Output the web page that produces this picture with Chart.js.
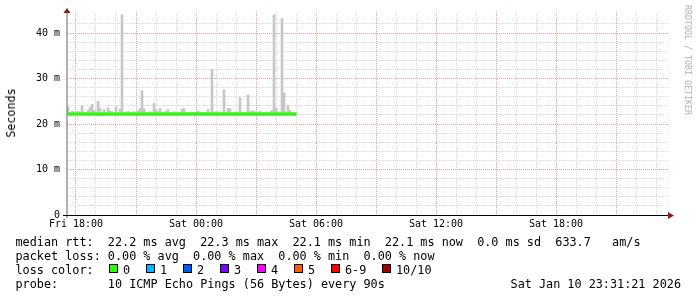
<!DOCTYPE html>
<html>
<head>
    <meta charset="utf-8">
    <title>Smokeping latency</title>
    <style>
        body {
            margin: 0;
            background: #fff;
        }
        .wrap {
            position: relative;
            width: 697px;
            height: 297px;
            overflow: hidden;
            font-family: "DejaVu Sans Mono", monospace;
            color: #000;
        }
        canvas {
            position: absolute;
            left: 0;
            top: 0;
        }
        .rot {
            position: absolute;
            white-space: nowrap;
            transform-origin: center center;
        }
        .line {
            position: absolute;
            left: 15.5px;
            font-size: 11.8px;
            line-height: 14px;
            white-space: pre;
        }
        .box {
            position: absolute;
            width: 7px;
            height: 7px;
            border: 1px solid #000;
        }
        .lbl {
            position: absolute;
            font-size: 11.8px;
            line-height: 14px;
            white-space: pre;
        }
    </style>
</head>
<body>
    <div class="wrap" id="wrap">
        <canvas id="chart" width="697" height="297"></canvas>
        <div class="rot" id="ylabel" style="font-size:11.7px;left:10.5px;top:113px;transform:translate(-50%,-50%) rotate(-90deg)">Seconds</div>
        <div class="rot" style="font-size:8.3px;color:#b0b0b0;left:688px;top:60px;transform:translate(-50%,-50%) rotate(90deg)">RRDTOOL / TOBI OETIKER</div>
        <div class="line" style="top:234.5px">median rtt:  22.2 ms avg  22.3 ms max  22.1 ms min  22.1 ms now  0.0 ms sd  633.7   am/s</div>
        <div class="line" style="top:248.5px">packet loss: 0.00 % avg  0.00 % max  0.00 % min  0.00 % now</div>
        <div class="line" style="top:262.5px">loss color:</div>
        <div class="line" style="top:276.5px">probe:       10 ICMP Echo Pings (56 Bytes) every 90s</div>
        <div class="lbl" style="top:276.5px;right:16px">Sat Jan 10 23:31:21 2026</div>
    </div>

    <script src="https://cdn.jsdelivr.net/npm/chart.js"></script>
    <script>
        // hours since Fri 00:00, one sample every 6 minutes
        const sampleStart = 17.6;
        const sampleStep = 0.1;

        const medianRtt = [
            22.2, 22.2, 22.2, 22.2, 22.2, 22.2, 22.2, 22.2, 22.2, 22.2,
            22.2, 22.2, 22.2, 22.2, 22.2, 22.1, 22.2, 22.2, 22.2, 22.2,
            22.2, 22.2, 22.2, 22.2, 22.2, 22.2, 22.2, 22.2, 22.2, 22.2,
            22.2, 22.2, 22.2, 22.2, 22.2, 22.2, 22.2, 22.2, 22.2, 22.2,
            22.2, 22.2, 22.2, 22.2, 22.2, 22.2, 22.2, 22.2, 22.2, 22.2,
            22.2, 22.2, 22.2, 22.2, 22.2, 22.2, 22.2, 22.2, 22.2, 22.2,
            22.2, 22.2, 22.2, 22.2, 22.2, 22.2, 22.2, 22.2, 22.2, 22.2,
            22.2, 22.2, 22.2, 22.2, 22.2, 22.2, 22.2, 22.2, 22.2, 22.2,
            22.2, 22.2, 22.2, 22.2, 22.2, 22.2, 22.2, 22.2, 22.2, 22.2,
            22.2, 22.2, 22.2, 22.2, 22.2, 22.2, 22.2, 22.2, 22.2, 22.2,
            22.2, 22.2, 22.2, 22.2, 22.2, 22.2, 22.2, 22.2, 22.2, 22.2,
            22.2, 22.2, 22.2, 22.2, 22.1
        ];

        const smokeLow = [
            21.9, 21.9, 21.8, 21.9, 21.9, 21.8, 21.9, 21.9, 21.9, 21.8,
            21.9, 21.9, 21.9, 21.8, 21.9, 21.9, 21.9, 21.8, 21.9, 21.9,
            21.8, 21.9, 21.9, 21.9, 21.8, 21.9, 21.9, 21.9, 21.9, 21.8,
            21.9, 21.9, 21.8, 21.9, 21.9, 21.9, 21.8, 21.9, 21.9, 21.9,
            21.9, 21.8, 21.9, 21.9, 21.9, 21.8, 21.9, 21.9, 21.9, 21.8,
            21.9, 21.9, 21.8, 21.9, 21.9, 21.9, 21.9, 21.8, 21.9, 21.9,
            21.9, 21.8, 21.9, 21.9, 21.9, 21.9, 21.8, 21.9, 21.9, 21.8,
            21.9, 21.9, 21.9, 21.8, 21.9, 21.9, 21.9, 21.8, 21.9, 21.9,
            21.8, 21.9, 21.9, 21.9, 21.9, 21.8, 21.9, 21.9, 21.9, 21.8,
            21.9, 21.9, 21.8, 21.9, 21.9, 21.9, 21.9, 21.8, 21.9, 21.9,
            21.9, 21.8, 21.9, 21.9, 21.9, 21.8, 21.9, 21.9, 21.9, 21.8,
            21.9, 21.9, 21.9, 21.8, 21.9
        ];

        const smokeHigh = [
            23.8, 22.5, 22.8, 22.7, 22.5, 22.8, 22.6, 24.0, 22.6, 22.5,
            23.0, 23.6, 24.3, 23.1, 22.6, 25.0, 23.5, 22.6, 23.2, 22.6,
            23.6, 22.9, 22.7, 22.5, 23.8, 22.6, 23.3, 44.0, 22.6, 22.5,
            22.8, 22.6, 22.5, 22.7, 22.6, 22.9, 23.4, 27.3, 23.4, 22.6,
            22.5, 22.7, 22.6, 24.5, 23.2, 22.7, 23.4, 22.6, 22.5, 22.8,
            23.2, 22.6, 22.5, 22.7, 22.5, 22.6, 22.5, 23.3, 23.4, 22.6,
            22.5, 22.5, 22.6, 22.5, 22.6, 22.9, 22.6, 22.5, 22.5, 22.6,
            23.2, 22.6, 32.0, 22.6, 22.7, 22.7, 22.5, 22.6, 27.5, 22.6,
            23.4, 23.4, 22.6, 22.5, 22.7, 22.6, 25.8, 22.6, 22.5, 22.6,
            26.4, 22.7, 22.9, 22.9, 22.6, 22.6, 22.8, 22.6, 22.5, 22.6,
            22.5, 22.7, 23.0, 44.0, 23.5, 22.7, 22.6, 43.2, 26.9, 22.7,
            24.1, 23.0, 22.6, 22.5, 22.6
        ];

        const dayNames = ['Fri', 'Sat', 'Sun'];
        const yTickLabels = { 0: '0', 10: '10 m', 20: '20 m', 30: '30 m', 40: '40 m' };

        const lossLabels = ['0', '1', '2', '3', '4', '5', '6-9', '10/10'];
        const lossColors = ['#26ff00', '#00b8ff', '#0059ff', '#7e00ff', '#ff00ff', '#ff5a00', '#ff0000', '#a10000'];
        const lossBoxX = [109, 146, 183, 220, 257, 294, 331, 382];

        // legend boxes for the loss colours
        const wrap = document.getElementById('wrap');
        lossLabels.forEach((txt, i) => {
            const b = document.createElement('div');
            b.className = 'box';
            b.style.left = lossBoxX[i] + 'px';
            b.style.top = '264px';
            b.style.background = lossColors[i];
            wrap.appendChild(b);
            const l = document.createElement('div');
            l.className = 'lbl';
            l.style.left = (lossBoxX[i] + 14) + 'px';
            l.style.top = '262.5px';
            l.textContent = txt;
            wrap.appendChild(l);
        });

        const smokePoints = smokeHigh.map((hi, i) => ({ x: sampleStart + i * sampleStep, y: [smokeLow[i], hi] }));
        const medianPoints = medianRtt.map((v, i) => ({ x: sampleStart + i * sampleStep, y: v }));

        const gridMinor = '#dadada';
        const gridMajor = '#eba0a0';
        const tickFont = { family: 'DejaVu Sans Mono', size: 10 };

        // rrdtool style axis lines with arrow heads
        const axesArrows = {
            id: 'axesArrows',
            afterDraw(chart) {
                const c = chart.ctx;
                const a = chart.chartArea;
                c.save();
                c.lineWidth = 1;
                c.strokeStyle = '#666';
                c.beginPath();
                c.moveTo(a.left, a.bottom + 3);
                c.lineTo(a.left, a.top);
                c.stroke();
                c.strokeStyle = '#000';
                c.beginPath();
                c.moveTo(a.left - 4, a.bottom + 0.5);
                c.lineTo(a.right, a.bottom + 0.5);
                c.stroke();
                c.fillStyle = '#8b1a1a';
                c.beginPath();
                c.moveTo(a.left - 3.5, a.top);
                c.lineTo(a.left + 3.5, a.top);
                c.lineTo(a.left, a.top - 5);
                c.closePath();
                c.fill();
                c.beginPath();
                c.moveTo(a.right - 1, a.bottom - 3);
                c.lineTo(a.right - 1, a.bottom + 4);
                c.lineTo(a.right + 5, a.bottom + 0.5);
                c.closePath();
                c.fill();
                c.restore();
            }
        };

        const ctx = document.getElementById('chart').getContext('2d');
        const chart = new Chart(ctx, {
            type: 'bar',
            data: {
                datasets: [{
                    type: 'line',
                    label: 'median rtt',
                    data: medianPoints,
                    borderColor: '#26ff00',
                    borderWidth: 3,
                    pointRadius: 0,
                    tension: 0,
                    order: 0
                }, {
                    type: 'bar',
                    label: 'smoke',
                    data: smokePoints,
                    backgroundColor: '#c6c6c6',
                    borderWidth: 0,
                    barThickness: 2,
                    order: 1
                }]
            },
            options: {
                responsive: false,
                animation: false,
                devicePixelRatio: 1,
                layout: { padding: { top: 13, right: 28, left: 0, bottom: 0 } },
                plugins: {
                    legend: { display: false },
                    tooltip: { enabled: false }
                },
                scales: {
                    x: {
                        type: 'linear',
                        min: 17.55,
                        max: 47.65,
                        offset: false,
                        afterFit(s) { s.height = 82; },
                        border: { display: false, dash: [1, 1] },
                        grid: {
                            offset: false,
                            drawTicks: false,
                            color: (c) => (c.tick && c.tick.value % 3 === 0) ? gridMajor : gridMinor
                        },
                        ticks: {
                            stepSize: 1,
                            autoSkip: false,
                            maxRotation: 0,
                            includeBounds: false,
                            padding: 3,
                            color: '#000',
                            font: tickFont,
                            callback: (v) => {
                                if (v % 6 !== 0) return '';
                                const h = v % 24;
                                return dayNames[Math.floor((v - 24) / 24) + 1] + ' ' + String(h).padStart(2, '0') + ':00';
                            }
                        }
                    },
                    y: {
                        min: 0,
                        max: 44.4,
                        afterFit(s) { s.width = 67; },
                        border: { display: false, dash: [1, 1] },
                        grid: {
                            drawTicks: false,
                            color: (c) => {
                                const v = c.tick ? c.tick.value : 0;
                                if (v > 43) return 'rgba(0,0,0,0)';
                                return v % 10 === 0 ? gridMajor : gridMinor;
                            }
                        },
                        ticks: {
                            stepSize: 2,
                            includeBounds: false,
                            autoSkip: false,
                            padding: 7,
                            color: '#000',
                            font: tickFont,
                            callback: (v) => yTickLabels[v] !== undefined ? yTickLabels[v] : ''
                        }
                    }
                }
            },
            plugins: [axesArrows]
        });
    </script>
</body>
</html>
